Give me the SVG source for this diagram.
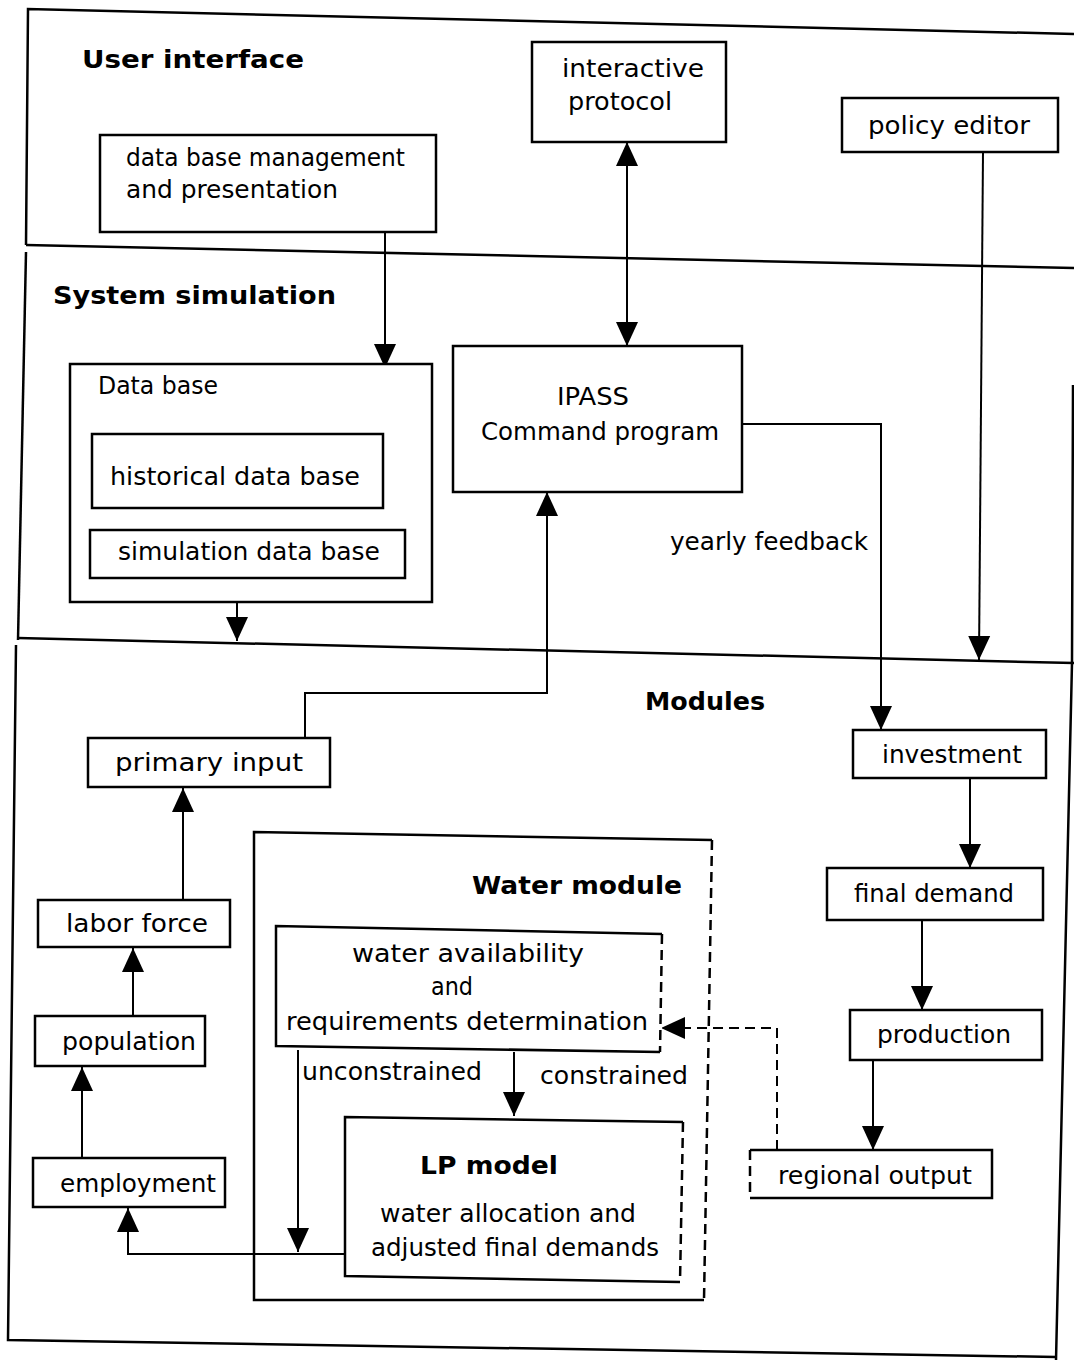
<svg xmlns="http://www.w3.org/2000/svg" width="1074" height="1360" viewBox="0 0 1074 1360">
<style>
text{font-family:"DejaVu Sans","Liberation Sans",sans-serif;font-size:24px;fill:#000}
.t{font-weight:bold;font-size:25px}
.b{fill:#fff;stroke:#000;stroke-width:2.5}
.s{fill:none;stroke:#000;stroke-width:2.5}
.c{fill:none;stroke:#000;stroke-width:2}
.d{stroke-dasharray:10 6}
</style>
<defs>
<marker id="a" markerUnits="userSpaceOnUse" markerWidth="24" markerHeight="24" refX="24" refY="11" orient="auto-start-reverse" viewBox="0 0 24 22">
<path d="M0,0 L24,11 L0,22 z" fill="#000"/>
</marker>
</defs>
<rect width="1074" height="1360" fill="#fff"/>
<g id="frame">
<path class="s" d="M26,245 L28,9 L1074,34"/>
<path class="s" d="M26,245 L1074,268"/>
<path class="s" d="M18,640 L26,252"/>
<path class="s" d="M18,638 L1074,663"/>
<path class="s" d="M1073,385 L1072,663 L1056,1360"/>
<path class="s" d="M16,645 L8,1340 L1056,1357"/>
<text class="t" x="82" y="68" textLength="222" lengthAdjust="spacingAndGlyphs">User interface</text>
<text class="t" x="53" y="304" textLength="283" lengthAdjust="spacingAndGlyphs">System simulation</text>
<text class="t" x="645" y="710" textLength="120" lengthAdjust="spacingAndGlyphs">Modules</text>
</g>
<g id="connectors">
<path class="c" marker-end="url(#a)" d="M385,232 V368"/>
<path class="c" marker-start="url(#a)" marker-end="url(#a)" d="M627,142 V346"/>
<path class="c" marker-end="url(#a)" d="M237,602 V641"/>
<path class="c" marker-end="url(#a)" d="M742,424 H881 V730"/>
<path class="c" marker-end="url(#a)" d="M983,152 L979,660"/>
<path class="c" marker-end="url(#a)" d="M305,738 V693 H547 V492"/>
<path class="c" marker-end="url(#a)" d="M970,778 V868"/>
<path class="c" marker-end="url(#a)" d="M922,920 V1010"/>
<path class="c" marker-end="url(#a)" d="M873,1060 V1150"/>
<path class="c d" marker-end="url(#a)" d="M777,1150 V1028 H661"/>
<path class="c" marker-end="url(#a)" d="M298,1050 V1252"/>
<path class="c" marker-end="url(#a)" d="M514,1052 V1116"/>
<path class="c" marker-end="url(#a)" d="M345,1254 H128 V1208"/>
<path class="c" marker-end="url(#a)" d="M82,1158 V1067"/>
<path class="c" marker-end="url(#a)" d="M133,1016 V948"/>
<path class="c" marker-end="url(#a)" d="M183,900 V788"/>
<text x="670" y="550" textLength="198" lengthAdjust="spacingAndGlyphs">yearly feedback</text>
<text x="302" y="1080" textLength="180" lengthAdjust="spacingAndGlyphs">unconstrained</text>
<text x="540" y="1084" textLength="148" lengthAdjust="spacingAndGlyphs">constrained</text>
</g>
<g id="dbm">
<rect class="b" x="100" y="135" width="336" height="97"/>
<text x="126" y="166" textLength="279" lengthAdjust="spacingAndGlyphs">data base management</text>
<text x="126" y="198" textLength="212" lengthAdjust="spacingAndGlyphs">and presentation</text>
</g>
<g id="interactive">
<rect class="b" x="532" y="42" width="194" height="100"/>
<text x="562" y="77" textLength="142" lengthAdjust="spacingAndGlyphs">interactive</text>
<text x="568" y="110" textLength="104" lengthAdjust="spacingAndGlyphs">protocol</text>
</g>
<g id="policy">
<rect class="b" x="842" y="98" width="216" height="54"/>
<text x="868" y="134" textLength="162" lengthAdjust="spacingAndGlyphs">policy editor</text>
</g>
<g id="database">
<rect class="b" x="70" y="364" width="362" height="238"/>
<text x="98" y="394" textLength="120" lengthAdjust="spacingAndGlyphs">Data base</text>
</g>
<g id="historical">
<rect class="b" x="92" y="434" width="291" height="74"/>
<text x="110" y="485" textLength="250" lengthAdjust="spacingAndGlyphs">historical data base</text>
</g>
<g id="simdb">
<rect class="b" x="90" y="530" width="315" height="48"/>
<text x="118" y="560" textLength="262" lengthAdjust="spacingAndGlyphs">simulation data base</text>
</g>
<g id="ipass">
<rect class="b" x="453" y="346" width="289" height="146"/>
<text x="557" y="405" textLength="72" lengthAdjust="spacingAndGlyphs">IPASS</text>
<text x="481" y="440" textLength="238" lengthAdjust="spacingAndGlyphs">Command program</text>
</g>
<g id="primary">
<rect class="b" x="88" y="738" width="242" height="49"/>
<text x="115" y="771" textLength="188" lengthAdjust="spacingAndGlyphs">primary input</text>
</g>
<g id="investment">
<rect class="b" x="853" y="730" width="193" height="48"/>
<text x="882" y="763" textLength="140" lengthAdjust="spacingAndGlyphs">investment</text>
</g>
<g id="finaldemand">
<rect class="b" x="827" y="868" width="216" height="52"/>
<text x="854" y="902" textLength="160" lengthAdjust="spacingAndGlyphs">final demand</text>
</g>
<g id="production">
<rect class="b" x="850" y="1010" width="192" height="50"/>
<text x="877" y="1043" textLength="134" lengthAdjust="spacingAndGlyphs">production</text>
</g>
<g id="regional">
<path class="s" d="M750,1150 H992 V1198 H750"/>
<path class="s d" d="M750,1150 V1198"/>
<text x="778" y="1184" textLength="194" lengthAdjust="spacingAndGlyphs">regional output</text>
</g>
<g id="watermodule">
<path class="s" d="M712,840 L254,832 V1300 H704"/>
<path class="s d" d="M712,840 L704,1300"/>
<text class="t" x="472" y="894" textLength="210" lengthAdjust="spacingAndGlyphs">Water module</text>
</g>
<g id="wateravail">
<path fill="#fff" d="M276,926 H662 V1050 H276 z"/>
<path class="s" d="M662,934 L276,926 V1046 L660,1052"/>
<path class="s d" d="M662,934 L660,1052"/>
<text x="352" y="962" textLength="232" lengthAdjust="spacingAndGlyphs">water availability</text>
<text x="431" y="995" textLength="42" lengthAdjust="spacingAndGlyphs">and</text>
<text x="286" y="1030" textLength="362" lengthAdjust="spacingAndGlyphs">requirements determination</text>
</g>
<g id="lpmodel">
<path fill="#fff" d="M345,1117 H683 V1280 H345 z"/>
<path class="s" d="M683,1122 L345,1117 V1276 L680,1282"/>
<path class="s d" d="M683,1122 L680,1282"/>
<text class="t" x="420" y="1174" textLength="138" lengthAdjust="spacingAndGlyphs">LP model</text>
<text x="380" y="1222" textLength="256" lengthAdjust="spacingAndGlyphs">water allocation and</text>
<text x="371" y="1256" textLength="288" lengthAdjust="spacingAndGlyphs">adjusted final demands</text>
</g>
<g id="laborforce">
<rect class="b" x="38" y="900" width="192" height="47"/>
<text x="66" y="932" textLength="142" lengthAdjust="spacingAndGlyphs">labor force</text>
</g>
<g id="population">
<rect class="b" x="35" y="1016" width="170" height="50"/>
<text x="62" y="1050" textLength="134" lengthAdjust="spacingAndGlyphs">population</text>
</g>
<g id="employment">
<rect class="b" x="33" y="1158" width="192" height="49"/>
<text x="60" y="1192" textLength="156" lengthAdjust="spacingAndGlyphs">employment</text>
</g>
</svg>
